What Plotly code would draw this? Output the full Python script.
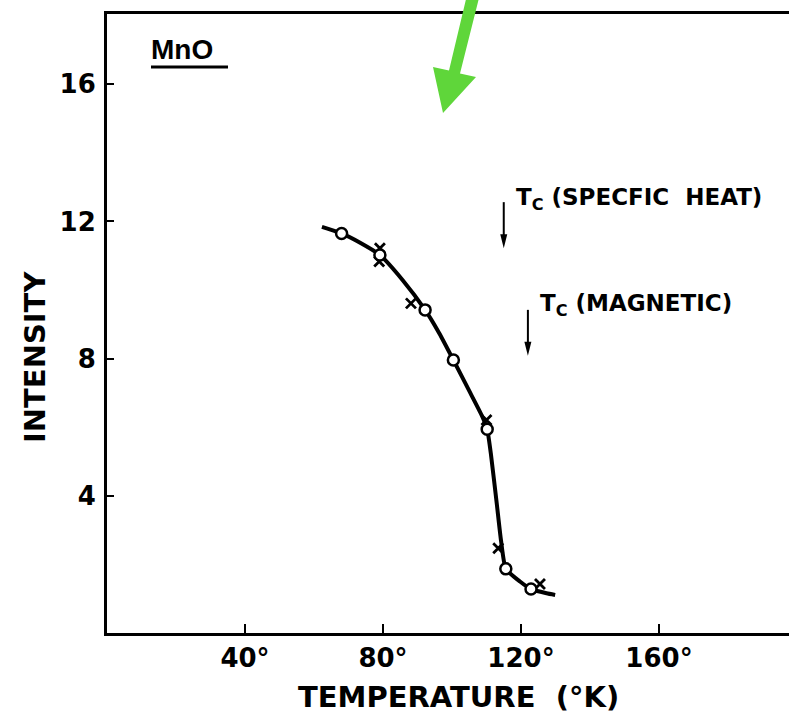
import plotly.graph_objects as go

# Neutron diffraction intensity of the MnO magnetic peak vs temperature
curve_t = [62.3, 68.0, 73.5, 79.1, 85.6, 92.2, 96.3, 100.4, 105.3, 108.6, 110.2,
           111.3, 113.0, 114.2, 115.6, 119.7, 122.9, 127.4, 129.9]
curve_i = [11.84, 11.65, 11.37, 11.02, 10.30, 9.42, 8.74, 7.96, 7.00, 6.35, 5.94,
           5.20, 3.75, 2.70, 1.87, 1.50, 1.28, 1.16, 1.11]

circle_t = [68.0, 79.1, 92.2, 100.4, 110.2, 115.6, 122.9]
circle_i = [11.65, 11.02, 9.42, 7.96, 5.94, 1.87, 1.28]

cross_t = [79.1, 78.9, 88.1, 110.0, 113.4, 125.5]
cross_i = [11.22, 10.83, 9.61, 6.21, 2.47, 1.43]

x_ticks = [40, 80, 120, 160]
x_tick_text = ["40°", "80°", "120°", "160°"]
y_ticks = [4, 8, 12, 16]
y_tick_text = ["4", "8", "12", "16"]

tc_specific_heat = 115.0
tc_magnetic = 122.0

W, H = 789, 717
ML, MR, MT, MB = 107, 0, 14, 84
PW, PH = W - ML - MR, H - MT - MB
X_SCALE, Y_SCALE = 3.45, 34.3          # pixels per data unit
X_RANGE = [0, PW / X_SCALE]
Y_RANGE = [0, PH / Y_SCALE]


def px(xp):
    return (xp - ML) / PW


def py(yp):
    return (H - MB - yp) / PH


bold = dict(family="DejaVu Sans", color="black", weight="bold")

fig = go.Figure()
fig.add_trace(go.Scatter(
    x=curve_t, y=curve_i, mode="lines",
    line=dict(color="black", width=4, shape="spline", smoothing=0.5),
    hoverinfo="skip", showlegend=False))
fig.add_trace(go.Scatter(
    x=cross_t, y=cross_i, mode="markers",
    marker=dict(symbol="x-thin-open", size=10, color="black",
                line=dict(color="black", width=2.8)),
    showlegend=False))
fig.add_trace(go.Scatter(
    x=circle_t, y=circle_i, mode="markers",
    marker=dict(symbol="circle", size=11, color="white",
                line=dict(color="black", width=2.5)),
    showlegend=False))

annotations = []
shapes = []

# Transition temperature markers: a down arrow and its label
head_len = 14 / Y_SCALE
head_half = 3.5 / X_SCALE
shaft_len = 46 / Y_SCALE
for tc, label, y_tip, y_text in [
        (tc_specific_heat, "T<sub>C</sub> (SPECFIC  HEAT)", 11.22, 12.66),
        (tc_magnetic, "T<sub>C</sub> (MAGNETIC)", 8.08, 9.56)]:
    shapes.append(dict(type="line", xref="x", yref="y",
                       x0=tc, x1=tc, y0=y_tip + shaft_len, y1=y_tip + head_len * 0.8,
                       line=dict(color="black", width=2)))
    shapes.append(dict(type="path", xref="x", yref="y",
                       path=(f"M {tc - head_half},{y_tip + head_len} "
                             f"L {tc + head_half},{y_tip + head_len} "
                             f"L {tc},{y_tip} Z"),
                       fillcolor="black", line=dict(width=0)))
    annotations.append(dict(
        x=tc + 3.0, y=y_text, xref="x", yref="y", text=label,
        showarrow=False, xanchor="left", yanchor="middle",
        font=dict(size=23, **bold)))

annotations += [
    dict(x=px(182), y=py(49), xref="paper", yref="paper", text="MnO",
         showarrow=False, xanchor="center", yanchor="middle",
         font=dict(size=28, family="Liberation Sans", color="black",
                   weight="bold")),
    dict(x=px(458), y=py(697), xref="paper", yref="paper",
         text="TEMPERATURE  (°K)", showarrow=False,
         xanchor="center", yanchor="middle", font=dict(size=29, **bold)),
    dict(x=px(35), y=py(357), xref="paper", yref="paper", text="INTENSITY",
         showarrow=False, textangle=-90, xanchor="center", yanchor="middle",
         font=dict(size=29, **bold)),
]

# Green pointer arrow drawn as a closed polygon
arrow_pts = [(467, -5), (479, -2), (460, 73.5), (476, 77), (443, 113),
             (433, 67), (449, 70.5)]
path = "M " + " L ".join(f"{px(a):.5f},{py(b):.5f}" for a, b in arrow_pts) + " Z"

shapes += [
    dict(type="line", xref="paper", yref="paper",
         x0=px(151), x1=px(228), y0=py(67), y1=py(67),
         line=dict(color="black", width=3)),
    dict(type="path", xref="paper", yref="paper", path=path,
         fillcolor="#5fd63a", line=dict(width=0), layer="above"),
]

fig.update_layout(
    width=W, height=H,
    margin=dict(l=ML, r=MR, t=MT, b=MB, pad=0),
    paper_bgcolor="white", plot_bgcolor="white",
    annotations=annotations, shapes=shapes,
    xaxis=dict(range=X_RANGE, showgrid=False, zeroline=False,
               showline=True, linecolor="black", linewidth=3, mirror=True,
               ticks="inside", ticklen=9, tickwidth=2, tickcolor="black",
               tickvals=x_ticks, ticktext=x_tick_text,
               tickfont=dict(size=26, **bold)),
    yaxis=dict(range=Y_RANGE, showgrid=False, zeroline=False,
               showline=True, linecolor="black", linewidth=3, mirror=False,
               ticks="inside", ticklen=7, tickwidth=2, tickcolor="black",
               tickvals=y_ticks, ticktext=y_tick_text,
               tickfont=dict(size=26, **bold), ticklabelstandoff=3),
)

fig.write_html("out.html")
